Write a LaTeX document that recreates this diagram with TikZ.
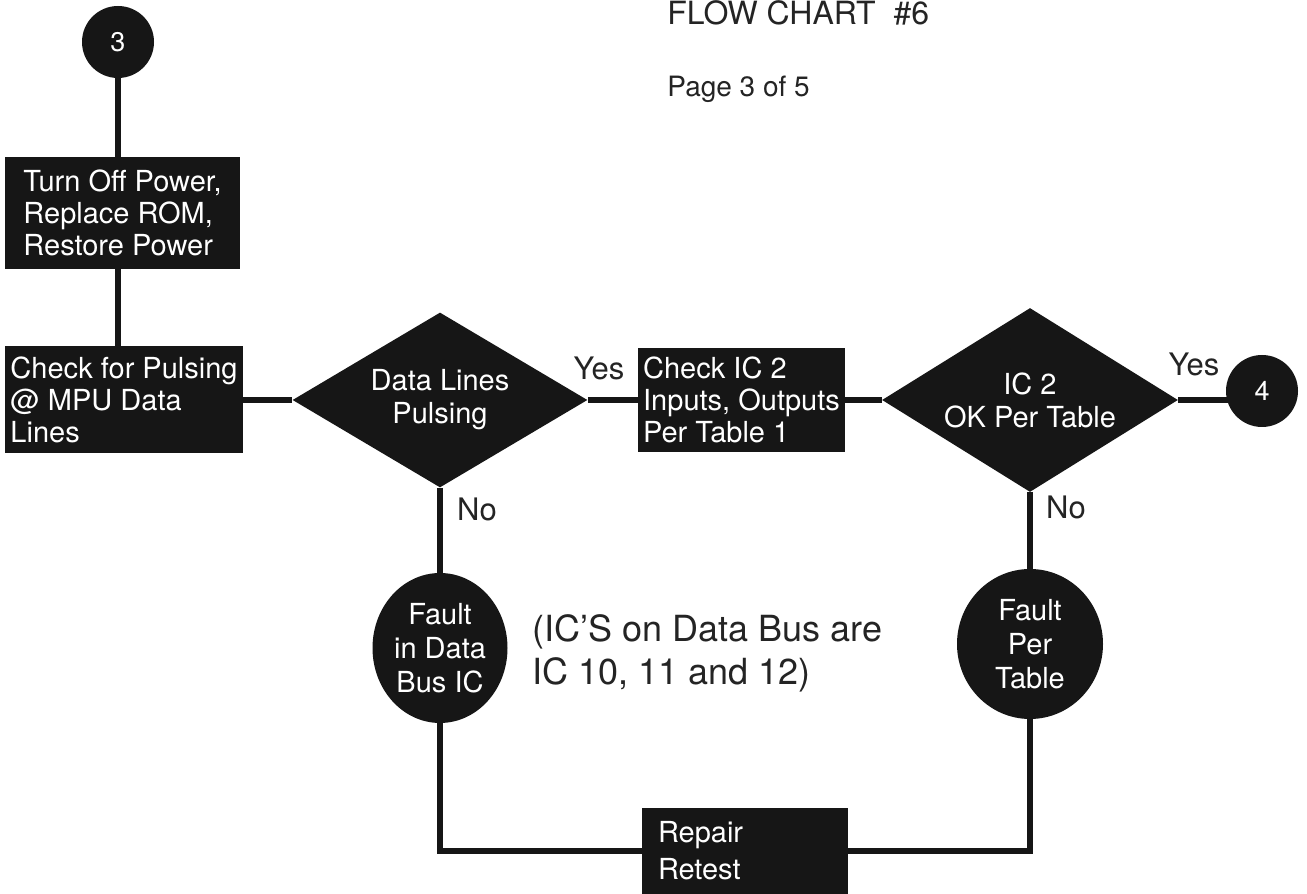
\documentclass[tikz,border=0pt]{standalone}
\usepackage{fontspec}
\setmainfont{TeX Gyre Heros}
\usetikzlibrary{shapes.geometric,positioning,calc}
\definecolor{inkBlack}{RGB}{22,22,22}
\definecolor{textGray}{RGB}{36,36,36}
\tikzset{
	fbox/.style={
		rectangle,
		fill=inkBlack,
		text=white,
		align=left,
		inner xsep=2pt,
		inner ysep=0pt,
		font=\fontsize{14.5}{16}\selectfont
	},
	fdia/.style={diamond, fill=inkBlack, text=white, align=center, inner sep=0pt, aspect=1.6, font=\fontsize{14.5}{16.5}\selectfont},
	fcirc/.style={ellipse, fill=inkBlack, text=white, align=center, inner sep=0pt, font=\fontsize{14.5}{17}\selectfont},
	fconn/.style={circle, fill=inkBlack, text=white, minimum size=36pt, inner sep=0pt, font=\fontsize{13.5}{15}\selectfont},
	flbl/.style={text=textGray, inner sep=0pt, font=\fontsize{15.5}{18}\selectfont},
	fline/.style={inkBlack, line width=3pt}
}

\begin{document}
\begin{tikzpicture}[x=0.5pt, y=0.5pt]
		\useasboundingbox[fill=white] (0,0) rectangle (1307,894);
		\node[flbl, anchor=base west, font=\fontsize{16}{18}\selectfont] (title) at (667,869) {FLOW CHART\ \ \#6};
		\node[flbl, anchor=base west, font=\fontsize{14}{16}\selectfont] (page) at (667,797) {Page 3 of 5};
		\node[fconn] (c3) at (118,852) {3};
		\node[fbox, minimum width=117.5pt, minimum height=56pt] (off) at (122.5,681)
			{Turn Off Power,\\Replace ROM,\\Restore Power};
		\node[fbox, minimum width=119pt, minimum height=53.5pt] (chk) at (124,494)
			{Check for Pulsing\\@ MPU Data\\Lines};
		\node[fdia, minimum width=147.5pt, minimum height=87.5pt] (pulse) at (440,494)
			{Data Lines\\Pulsing};
		\node[fbox, minimum width=103.5pt, minimum height=52pt] (ictwo) at (741.5,494)
			{Check IC 2\\Inputs, Outputs\\Per Table 1};
		\node[fdia, minimum width=148pt, minimum height=92pt] (okt) at (1030,494)
			{IC 2\\OK Per Table};
		\node[fconn] (c4) at (1262,503) {4};
		\node[fcirc, minimum width=67.5pt, minimum height=75pt] (fbus) at (440,246)
			{Fault\\in Data\\Bus IC};
		\node[fcirc, minimum width=73pt, minimum height=75pt] (ftab) at (1030,250)
			{Fault\\Per\\Table};
		\node[fbox, text width=87pt, inner xsep=8pt, minimum height=43pt, font=\fontsize{14.5}{18.5}\selectfont] (rep) at (745,43)
			{Repair\\Retest};
		\node[flbl, anchor=north west, align=left, font=\fontsize{18}{21.5}\selectfont] (note) at (532,280)
			{(IC'S on Data Bus are\\IC 10, 11 and 12)};
		\node[flbl] (yes1) at (599,526) {Yes};
		\node[flbl] (yes2) at (1194,530) {Yes};
		\node[flbl] (no1) at (477,385) {No};
		\node[flbl] (no2) at (1066,387) {No};
		\draw[fline] (c3) -- (c3 |- off.north);
		\draw[fline] (c3 |- off.south) -- (c3 |- chk.north);
		\draw[fline] (chk) -- (pulse);
		\draw[fline] (pulse) -- (ictwo);
		\draw[fline] (ictwo) -- (okt);
		\draw[fline] (okt.east) -- ($(okt.east -| c4.west)+(4,0)$);
		\draw[fline] (pulse) -- (fbus);
		\draw[fline] (okt) -- (ftab);
		\draw[fline] (fbus) |- (rep);
		\draw[fline] (ftab) |- (rep);
	\end{tikzpicture}
\end{document}
